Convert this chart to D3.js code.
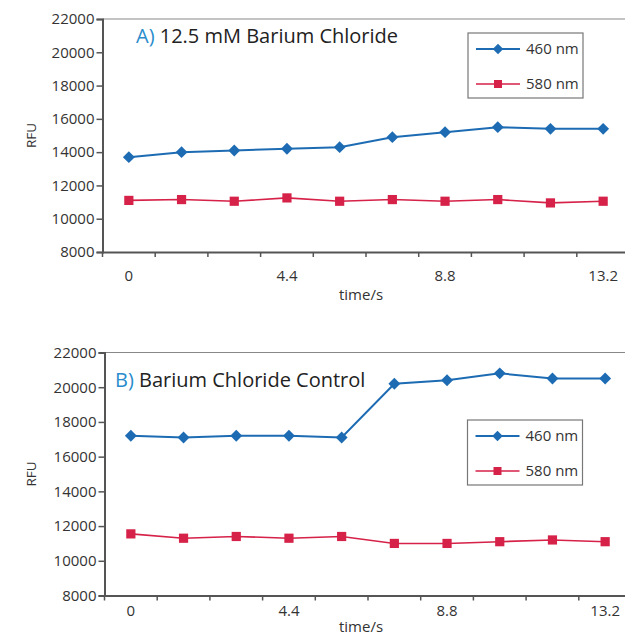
<!DOCTYPE html>
<html><head><meta charset="utf-8">
<script src="https://cdn.jsdelivr.net/npm/d3@7"></script>
<style>body{margin:0;background:#fff;}svg{display:block;font-family:"Open Sans",sans-serif;}</style>
</head><body><svg id="c" width="625" height="634"></svg>
<script>
const times = ["0","1.47","2.93","4.4","5.87","7.33","8.8","10.27","11.73","13.2"];
const tickLabels = {"0":"0","4.4":"4.4","8.8":"8.8","13.2":"13.2"};
const yTicks = [8000,10000,12000,14000,16000,18000,20000,22000];
const seriesNames = ["460 nm","580 nm"];
const aBlue = [13700,14000,14100,14200,14300,14900,15200,15500,15400,15400];
const aRed  = [11100,11150,11050,11250,11050,11150,11050,11150,10950,11050];
const bBlue = [17200,17100,17200,17200,17100,20200,20400,20800,20500,20500];
const bRed  = [11550,11300,11400,11300,11400,11000,11000,11100,11200,11100];

const BLUE="#1d6cb3", RED="#d62148", AX="#555";
const svg = d3.select("#c");

function panel(cfg){
  const g = svg.append("g");
  const x = d3.scaleBand().domain(times).range([cfg.left, cfg.left+527]);
  const y = d3.scaleLinear().domain([8000,22000]).range([cfg.bottom, cfg.top]);
  g.append("line").attr("x1",cfg.left).attr("x2",640).attr("y1",cfg.top).attr("y2",cfg.top)
    .attr("stroke","#888").attr("stroke-width",1.2);
  const ya = g.append("g").attr("transform",`translate(${cfg.left},0)`)
    .call(d3.axisLeft(y).tickValues(yTicks).tickSize(6).tickPadding(2).tickFormat(d3.format("d")));
  ya.select(".domain").attr("stroke",AX).attr("stroke-width",2);
  ya.selectAll(".tick line").attr("stroke",AX).attr("stroke-width",1.5);
  ya.selectAll("text").attr("font-size",15).attr("fill","#333").attr("font-family","Open Sans");
  const xa = g.append("g").attr("transform",`translate(0,${cfg.bottom})`)
    .call(d3.axisBottom(x).tickSize(0).tickPadding(cfg.xPad).tickFormat(d=>tickLabels[d]||""));
  xa.select(".domain").attr("stroke",AX).attr("stroke-width",2);
  xa.selectAll("text").attr("font-size",15).attr("fill","#333").attr("font-family","Open Sans");
  const bounds = times.map(t=>x(t)).concat([x(times[times.length-1])+x.bandwidth()]);
  g.selectAll(".bt").data(bounds).enter().append("line")
    .attr("x1",d=>d).attr("x2",d=>d).attr("y1",cfg.bottom).attr("y2",cfg.bottom+5)
    .attr("stroke",AX).attr("stroke-width",1.5);
  g.append("text").attr("x",361).attr("y",cfg.bottom+cfg.tPad).attr("text-anchor","middle")
    .attr("font-size",15).attr("fill","#333").text("time/s");
  g.append("text").attr("transform",`translate(36,${(cfg.top+cfg.bottom)/2}) rotate(-90)`)
    .attr("text-anchor","middle").attr("font-size",13.5).attr("fill","#333").text("RFU");
  const t = g.append("text").attr("x",cfg.titleX).attr("y",cfg.titleY).attr("font-size",20).attr("fill","#222");
  t.append("tspan").attr("fill","#2a8ccc").text(cfg.letter);
  t.append("tspan").text(" "+cfg.title);
  const cx = d=>x(d)+x.bandwidth()/2;
  const line = vals => d3.line().x((d,i)=>cx(times[i])).y(d=>y(d))(vals);
  g.append("path").attr("d",line(cfg.red)).attr("fill","none").attr("stroke",RED).attr("stroke-width",1.6);
  g.append("path").attr("d",line(cfg.blue)).attr("fill","none").attr("stroke",BLUE).attr("stroke-width",2);
  g.selectAll(".rs").data(cfg.red).enter().append("rect")
    .attr("x",(d,i)=>cx(times[i])-4.6).attr("y",d=>y(d)-4.6).attr("width",9.2).attr("height",9.2).attr("fill",RED);
  const dia = d3.symbol().type(d3.symbolDiamond2).size(90);
  g.selectAll(".bs").data(cfg.blue).enter().append("path")
    .attr("transform",(d,i)=>`translate(${cx(times[i])},${y(d)})`).attr("d",dia).attr("fill",BLUE);
  const L = cfg.legend;
  g.append("rect").attr("x",L.x).attr("y",L.y).attr("width",115).attr("height",65)
    .attr("fill","#fff").attr("stroke","#777").attr("stroke-width",1.2);
  [[BLUE,"d"],[RED,"s"]].forEach((s,i)=>{
    const yy = L.y + 16 + i*35;
    g.append("line").attr("x1",L.x+8).attr("x2",L.x+52).attr("y1",yy).attr("y2",yy)
      .attr("stroke",s[0]).attr("stroke-width",s[1]==="d"?2:1.6);
    if(s[1]==="d") g.append("path").attr("transform",`translate(${L.x+30},${yy})`)
      .attr("d",d3.symbol().type(d3.symbolDiamond2).size(70)).attr("fill",s[0]);
    else g.append("rect").attr("x",L.x+26).attr("y",yy-4).attr("width",8).attr("height",8).attr("fill",s[0]);
    g.append("text").attr("x",L.x+58).attr("y",yy+5).attr("font-size",15).attr("fill","#333").text(seriesNames[i]);
  });
}

panel({left:102.5, top:19, bottom:252, xPad:18, tPad:48, blue:aBlue, red:aRed, letter:"A)", title:"12.5 mM Barium Chloride",
  titleX:136, titleY:43, legend:{x:468,y:33}});
panel({left:104.5, top:352.5, bottom:595.5, xPad:10, tPad:36, blue:bBlue, red:bRed, letter:"B)", title:"Barium Chloride Control",
  titleX:115, titleY:387, legend:{x:467.5,y:420}});
</script></body></html>
